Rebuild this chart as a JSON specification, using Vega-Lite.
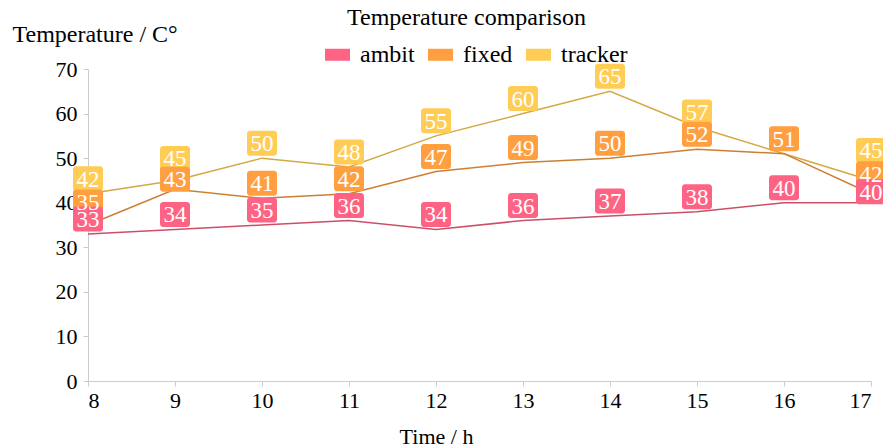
{
  "$schema": "https://vega.github.io/schema/vega-lite/v6.json",
  "width": 783,
  "height": 312,
  "autosize": "none",
  "padding": {"left": 88, "top": 69, "right": 12, "bottom": 66},
  "background": "white",
  "title": {
    "text": "Temperature comparison",
    "font": "Liberation Serif",
    "fontSize": 24,
    "fontWeight": "normal",
    "color": "black",
    "anchor": "middle",
    "frame": "group",
    "dx": -13,
    "offset": -8
  },
  "config": {
    "view": {"stroke": null},
    "axis": {
      "grid": false,
      "domainColor": "#cccccc",
      "tickColor": "#cccccc",
      "tickSize": 5,
      "labelFont": "Liberation Serif",
      "labelFontSize": 22,
      "labelColor": "black",
      "titleFont": "Liberation Serif",
      "titleFontSize": 22,
      "titleFontWeight": "normal",
      "titleColor": "black"
    }
  },
  "data": {
    "values": [
      {"t": 8, "s": "tracker", "v": 42},
      {"t": 9, "s": "tracker", "v": 45},
      {"t": 10, "s": "tracker", "v": 50},
      {"t": 11, "s": "tracker", "v": 48},
      {"t": 12, "s": "tracker", "v": 55},
      {"t": 13, "s": "tracker", "v": 60},
      {"t": 14, "s": "tracker", "v": 65},
      {"t": 15, "s": "tracker", "v": 57},
      {"t": 16, "s": "tracker", "v": 51},
      {"t": 17, "s": "tracker", "v": 45},
      {"t": 8, "s": "fixed", "v": 35},
      {"t": 9, "s": "fixed", "v": 43},
      {"t": 10, "s": "fixed", "v": 41},
      {"t": 11, "s": "fixed", "v": 42},
      {"t": 12, "s": "fixed", "v": 47},
      {"t": 13, "s": "fixed", "v": 49},
      {"t": 14, "s": "fixed", "v": 50},
      {"t": 15, "s": "fixed", "v": 52},
      {"t": 16, "s": "fixed", "v": 51},
      {"t": 17, "s": "fixed", "v": 42},
      {"t": 8, "s": "ambit", "v": 33},
      {"t": 9, "s": "ambit", "v": 34},
      {"t": 10, "s": "ambit", "v": 35},
      {"t": 11, "s": "ambit", "v": 36},
      {"t": 12, "s": "ambit", "v": 34},
      {"t": 13, "s": "ambit", "v": 36},
      {"t": 14, "s": "ambit", "v": 37},
      {"t": 15, "s": "ambit", "v": 38},
      {"t": 16, "s": "ambit", "v": 40},
      {"t": 17, "s": "ambit", "v": 40}
    ]
  },
  "encoding": {
    "x": {
      "field": "t",
      "type": "quantitative",
      "scale": {"domain": [8, 17], "nice": false, "zero": false},
      "axis": {
        "values": [8, 9, 10, 11, 12, 13, 14, 15, 16, 17],
        "labelPadding": 4,
        "title": "Time / h",
        "titleX": 348,
        "titleY": 55,
        "titleAnchor": null,
        "titleAlign": "center",
        "titleBaseline": "middle"
      }
    },
    "y": {
      "field": "v",
      "type": "quantitative",
      "scale": {"domain": [0, 70], "nice": false},
      "axis": {
        "values": [0, 10, 20, 30, 40, 50, 60, 70],
        "labelPadding": 6,
        "title": "Temperature / C°",
        "titleAngle": 0,
        "titleX": -76,
        "titleY": -35,
        "titleAlign": "left",
        "titleBaseline": "middle",
        "titleFontSize": 24
      }
    }
  },
  "layer": [
    {
      "mark": {"type": "line", "strokeWidth": 1.5},
      "encoding": {
        "stroke": {
          "field": "s",
          "type": "nominal",
          "scale": {"domain": ["tracker", "fixed", "ambit"], "range": ["#d4a844", "#cc7f33", "#cc4f6a"]},
          "legend": null
        }
      }
    },
    {
      "transform": [{"filter": "!(datum.s === 'tracker' && datum.t === 16)"}],
      "mark": {
        "type": "rect",
        "width": 30,
        "height": 25,
        "cornerRadius": 3,
        "yOffset": {"expr": "datum.t === 8 && datum.s === 'fixed' ? -23 : datum.t === 9 && datum.s === 'tracker' ? -22 : datum.t === 9 && datum.s === 'fixed' ? -10 : datum.t === 17 && datum.s === 'tracker' ? -30 : datum.t === 17 && datum.s === 'fixed' ? -20 : datum.t === 17 && datum.s === 'ambit' ? -11 : -15"}
      },
      "encoding": {
        "fill": {
          "field": "s",
          "type": "nominal",
          "scale": {"domain": ["ambit", "fixed", "tracker"], "range": ["#ff6384", "#ff9f40", "#ffcd56"]},
          "legend": {
            "orient": "none",
            "direction": "horizontal",
            "legendX": 237,
            "legendY": -27,
            "title": null,
            "symbolType": "M-1,-0.48H1V0.48H-1Z",
            "symbolSize": 625,
            "symbolStrokeWidth": 0,
            "symbolOpacity": 1,
            "labelFont": "Liberation Serif",
            "labelFontSize": 24,
            "labelColor": "black",
            "labelOffset": 10,
            "columnPadding": 13
          }
        }
      }
    },
    {
      "transform": [{"filter": "!(datum.s === 'tracker' && datum.t === 16)"}],
      "mark": {
        "type": "text",
        "color": "white",
        "font": "Liberation Serif",
        "fontSize": 23,
        "baseline": "middle",
        "align": "center",
        "yOffset": {"expr": "datum.t === 8 && datum.s === 'fixed' ? -22 : datum.t === 9 && datum.s === 'tracker' ? -21 : datum.t === 9 && datum.s === 'fixed' ? -9 : datum.t === 17 && datum.s === 'tracker' ? -29 : datum.t === 17 && datum.s === 'fixed' ? -19 : datum.t === 17 && datum.s === 'ambit' ? -10 : -14"}
      },
      "encoding": {
        "text": {"field": "v", "type": "quantitative"}
      }
    }
  ]
}
